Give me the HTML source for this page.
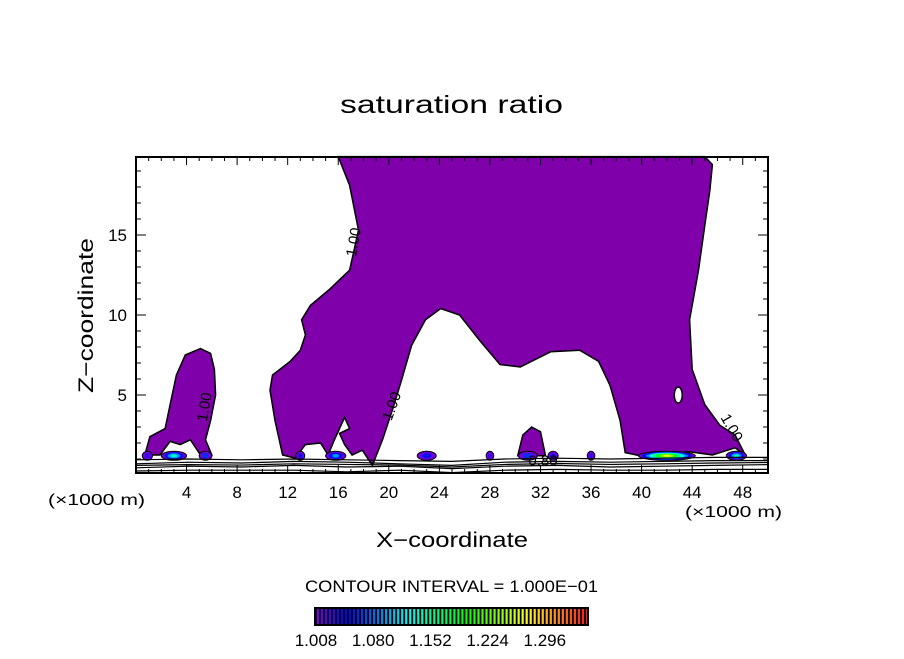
<!DOCTYPE html>
<html><head><meta charset="utf-8"><style>
body{margin:0;background:#fff}
svg text{font-family:"Liberation Sans",sans-serif;fill:#000}
</style></head><body>
<svg id="c" width="904" height="654" viewBox="0 0 904 654">
<rect width="904" height="654" fill="#fff"/>
<text x="340" y="113" font-size="25" textLength="223" lengthAdjust="spacingAndGlyphs">saturation ratio</text>
<g id="plot"></g>
<text x="376" y="547" font-size="21" textLength="152" lengthAdjust="spacingAndGlyphs">X−coordinate</text>
<text transform="translate(93,393) rotate(-90)" font-size="21" textLength="155" lengthAdjust="spacingAndGlyphs">Z−coordinate</text>
<text x="48" y="505" font-size="16" textLength="97" lengthAdjust="spacingAndGlyphs">(×1000 m)</text>
<text x="685" y="517" font-size="16" textLength="97" lengthAdjust="spacingAndGlyphs">(×1000 m)</text>
<text x="305" y="592" font-size="17" textLength="293" lengthAdjust="spacingAndGlyphs">CONTOUR INTERVAL = 1.000E−01</text>
<g id="cbar"></g>
</svg>
<script>
const xTicks=[4,8,12,16,20,24,28,32,36,40,44,48];
const yTicks=[5,10,15];
const cbarLabels=["1.008","1.080","1.152","1.224","1.296"];
const mainShape=[[16.0,19.9],[16.9,18.1],[17.6,15.3],[16.9,12.8],[15.3,11.6],[13.8,10.6],[13.1,9.7],[13.4,8.75],[13.0,7.8],[12.2,7.1],[10.8,6.25],[10.6,5.3],[11.0,3.4],[11.6,1.25],[12.6,1.05],[13.4,1.9],[14.6,2.0],[15.2,1.25],[15.7,2.2],[16.5,3.6],[16.9,2.9],[16.1,2.6],[16.5,1.9],[17.1,1.25],[17.9,1.55],[18.7,0.6],[19.5,2.2],[20.3,4.1],[21.0,5.9],[21.8,8.1],[22.9,9.7],[24.1,10.4],[25.6,10.0],[27.2,8.4],[28.8,6.9],[30.4,6.75],[32.8,7.7],[35.1,7.8],[36.6,7.1],[37.5,5.6],[38.3,3.4],[38.7,1.4],[39.9,1.2],[43.8,1.45],[45.6,1.25],[47.4,1.7],[48.2,1.25],[47.4,2.5],[46.2,3.1],[45.0,4.4],[44.0,6.6],[43.8,9.7],[44.5,12.8],[45.0,15.6],[45.4,17.8],[45.6,19.4],[45.0,19.9]];
const leftShape=[[0.7,1.25],[1.1,2.4],[2.3,2.9],[2.7,4.4],[3.2,6.25],[3.9,7.5],[5.1,7.9],[5.9,7.6],[6.2,6.6],[6.3,5.0],[5.9,3.4],[5.5,2.2],[6.0,1.25],[5.1,1.25],[4.3,2.2],[3.5,1.9],[2.7,2.1],[1.9,1.25]];
const bumpShape=[[30.2,1.2],[30.6,2.5],[31.3,3.0],[32.0,2.7],[32.4,1.2]];
const blobX=[0.9,3.0,5.5,13.0,15.8,23.0,28.0,31.0,33.0,36.0,42.0,47.5];
const blobW=[0.8,2.0,1.0,0.7,1.6,1.5,0.6,1.5,0.8,0.6,4.5,1.6];
const blobPeak=[1.02,1.12,1.05,1.03,1.08,1.04,1.02,1.05,1.03,1.02,1.25,1.12];
const lowLines=[[0.45,0.55,0.5,0.6,0.5,0.55,0.4,0.55,0.6,0.5,0.55,0.6,0.65],[0.7,0.8,0.75,0.85,0.8,0.7,0.6,0.8,0.85,0.8,0.85,0.9,0.9],[0.95,1.0,0.95,1.0,0.95,0.9,0.85,1.0,1.05,1.0,1.05,1.1,1.1],[0.25,0.3,0.3,0.3,0.2,0.3,0.15,0.3,0.35,0.3,0.3,0.35,0.35],[0.6,0.65,0.62,0.7,0.66,0.62,0.5,0.66,0.72,0.66,0.7,0.75,0.78]];
const L=136,R=768,T=157,B=473;
const xs=v=>L+v*(R-L)/50, ys=v=>475-v*16;
const NS="http://www.w3.org/2000/svg";
const plot=document.getElementById('plot');
function mk(tag,attrs,parent){const e=document.createElementNS(NS,tag);for(const k in attrs)e.setAttribute(k,attrs[k]);(parent||plot).appendChild(e);return e;}
function poly(arr){return arr.map(p=>xs(p[0]).toFixed(1)+","+ys(p[1]).toFixed(1)).join(" ");}
function col(v){const t=Math.max(0,Math.min(1,(v-1.0)/0.32));const h=270-t*270;return `hsl(${h},100%,${45+t*10}%)`;}
let e;
e=mk('polygon',{points:poly(mainShape),fill:'#7f00aa',stroke:'#000','stroke-width':1.5});


e=mk('ellipse',{cx:xs(42.9),cy:ys(5.0),rx:4,ry:8,fill:'#fff',stroke:'#000','stroke-width':1.5});


e=mk('polygon',{points:poly(leftShape),fill:'#7f00aa',stroke:'#000','stroke-width':1.5});


e=mk('polygon',{points:poly(bumpShape),fill:'#7f00aa',stroke:'#000','stroke-width':1.5});


blobX.forEach((x,i)=>{
  const g=mk('g',{});
  
  
  const n=Math.max(2,Math.round((blobPeak[i]-1.0)/0.036)+1);
  for(let k=0;k<n;k++){const f=1-k/n;const v=1.0+(blobPeak[i]-1.0)*k/(n-1);
    mk('ellipse',{cx:xs(x),cy:ys(1.2),rx:Math.max(1,xs(blobW[i]/2)-xs(0))*f,ry:4*f+0.5,fill:col(v),stroke:k==0?'#000':'none','stroke-width':1},g);}
});
lowLines.forEach(arr=>{
  const pts=arr.map((z,i)=>xs(i*50/(arr.length-1))+","+ys(z)).join(" ");
  e=mk('polyline',{points:pts,fill:'none',stroke:'#000','stroke-width':1.2});
  
  
});
const labs=[[5.8,4.2,-80,"1.00"],[17.6,14.5,-80,"1.00"],[20.6,4.2,-70,"1.00"],[46.8,2.8,60,"1.00"],[32.2,0.6,0,"0.80"]];
labs.forEach(l=>{e=mk('text',{transform:`translate(${xs(l[0])},${ys(l[1])}) rotate(${l[2]})`,'font-size':15,'text-anchor':'middle'});e.textContent=l[3];

});
e=mk('rect',{x:L,y:T,width:R-L,height:B-T,fill:'none',stroke:'#000','stroke-width':2});


for(let v=1;v<50;v++){const big=v%4==0;const len=big?8:4;
  mk('line',{x1:xs(v),x2:xs(v),y1:B,y2:B-len,stroke:'#000'});mk('line',{x1:xs(v),x2:xs(v),y1:T,y2:T+len,stroke:'#000'});}
for(let v=1;v<20;v++){const big=v%5==0;const len=big?10:5;
  mk('line',{x1:L,x2:L+len,y1:ys(v),y2:ys(v),stroke:'#000'});mk('line',{x1:R,x2:R-len,y1:ys(v),y2:ys(v),stroke:'#000'});}
xTicks.forEach(v=>{e=mk('text',{x:xs(v),y:498,'font-size':17,'text-anchor':'middle'});e.textContent=v;

});
yTicks.forEach(v=>{e=mk('text',{x:127,y:ys(v)+6,'font-size':17,'text-anchor':'end'});e.textContent=v;

});
const cb=document.getElementById('cbar');
const cx0=315,cx1=588,nS=68;
for(let i=0;i<nS;i++){const w=(cx1-cx0)/nS;
  mk('rect',{x:cx0+i*w,y:608,width:w,height:17,fill:col(1.0+0.32*i/(nS-1))},cb);
  mk('rect',{x:cx0+i*w,y:608,width:w*0.45,height:17,fill:'#000'},cb);}
mk('rect',{x:cx0,y:608,width:cx1-cx0,height:17,fill:'none',stroke:'#000','stroke-width':2},cb);
cbarLabels.forEach((t,i)=>{e=mk('text',{x:316+i*57.2,y:646,'font-size':17,'text-anchor':'middle'},cb);e.textContent=t;

});
</script>
</body></html>
